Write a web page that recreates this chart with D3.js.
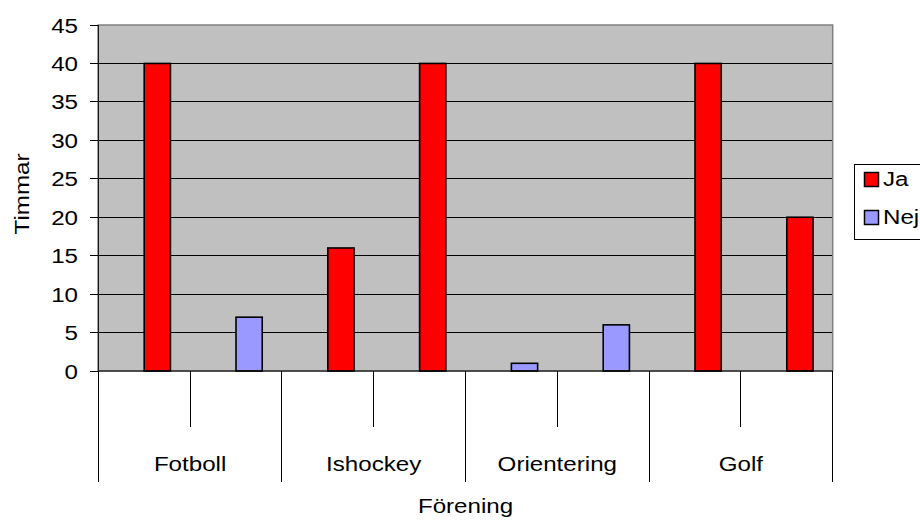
<!DOCTYPE html>
<html>
<head>
<meta charset="utf-8">
<script src="https://cdn.jsdelivr.net/npm/d3@7"></script>
<style>
  html, body { margin: 0; padding: 0; background: #fff; }
  svg { display: block; }
  text { font-family: "Liberation Sans", Arial, sans-serif; font-size: 21px; fill: #000; }
</style>
</head>
<body>
<div id="chart"></div>
<script>
// Föreningar (huvudkategorier), två underkategorier per förening
const groups = ["Fotboll", "Ishockey", "Orientering", "Golf"];
const subCategories = ["a", "b"];
// Svar per underkategori och antal timmar
const answers = ["Ja", "Nej", "Ja", "Ja", "Nej", "Nej", "Ja", "Ja"];
const hours = [40, 7, 16, 40, 1, 6, 40, 20];
// Legend / serier
const series = ["Ja", "Nej"];
const seriesColors = ["#FF0000", "#9999FF"];
// Y-axelns skala
const yTicks = [0, 5, 10, 15, 20, 25, 30, 35, 40, 45];
const yTitle = "Timmar";
const xTitle = "Förening";

const W = 920, H = 520;
const plot = { left: 98.3, right: 832.7, top: 25, bottom: 371 };
const SX = 1.15; // horizontal text widening

const slots = groups.flatMap(g => subCategories.map(s => g + "|" + s));
const rows = slots.map((id, i) => ({ id, answer: answers[i], value: hours[i] }));

const svg = d3.select("#chart").append("svg")
  .attr("width", W).attr("height", H)
  .style("background", "#fff");

const x = d3.scaleBand().domain(slots).range([plot.left, plot.right]).padding(0);
// each slot holds two cluster lanes; the answer bar sits in the second lane
const lane = d3.scaleBand().domain(["tom", "svar"]).range([0, x.bandwidth()])
  .paddingInner(0).paddingOuter(0.75);
const y = d3.scaleLinear().domain([0, 45]).range([plot.bottom, plot.top]);
const color = d3.scaleOrdinal().domain(series).range(seriesColors);

// plot background
svg.append("rect")
  .attr("x", plot.left).attr("y", plot.top)
  .attr("width", plot.right - plot.left).attr("height", plot.bottom - plot.top)
  .attr("fill", "#C0C0C0");

// gridlines
svg.append("g").selectAll("line")
  .data(yTicks.filter(t => t > 0 && t < 45))
  .join("line")
  .attr("x1", plot.left).attr("x2", plot.right)
  .attr("y1", d => y(d)).attr("y2", d => y(d))
  .attr("stroke", "#000").attr("stroke-width", 1)
  .attr("shape-rendering", "crispEdges");

// plot border
svg.append("rect")
  .attr("x", plot.left).attr("y", plot.top)
  .attr("width", plot.right - plot.left).attr("height", plot.bottom - plot.top)
  .attr("fill", "none").attr("stroke", "#808080").attr("stroke-width", 1.5);

// bars
svg.append("g").selectAll("rect")
  .data(rows)
  .join("rect")
  .attr("x", d => x(d.id) + lane("svar"))
  .attr("width", lane.bandwidth())
  .attr("y", d => y(d.value))
  .attr("height", d => y(0) - y(d.value))
  .attr("fill", d => color(d.answer))
  .attr("stroke", "#000").attr("stroke-width", 1.6);

// y axis
const yAxis = svg.append("g");
yAxis.append("line")
  .attr("x1", plot.left).attr("x2", plot.left)
  .attr("y1", plot.top).attr("y2", plot.bottom)
  .attr("stroke", "#000");
yAxis.selectAll("line.tick").data(yTicks).join("line")
  .attr("class", "tick")
  .attr("x1", plot.left - 8).attr("x2", plot.left)
  .attr("y1", d => y(d)).attr("y2", d => y(d))
  .attr("stroke", "#000").attr("shape-rendering", "crispEdges");
yAxis.selectAll("text").data(yTicks).join("text")
  .attr("transform", d => `translate(78,${y(d) + 7.5}) scale(${SX},1)`)
  .attr("text-anchor", "end")
  .text(d => d);

// category axis
const xAxis = svg.append("g");
xAxis.append("line")
  .attr("x1", plot.left).attr("x2", plot.right)
  .attr("y1", plot.bottom).attr("y2", plot.bottom)
  .attr("stroke", "#000");
const bounds = slots.map(s => x(s)).concat([plot.right]);
xAxis.selectAll("line.div").data(bounds).join("line")
  .attr("class", "div")
  .attr("x1", d => d).attr("x2", d => d)
  .attr("y1", plot.bottom)
  .attr("y2", (d, i) => i % subCategories.length === 0 ? 482 : 427)
  .attr("stroke", "#000").attr("shape-rendering", "crispEdges");
xAxis.selectAll("text").data(groups).join("text")
  .attr("transform", g => {
    const cx = (x(g + "|a") + x(g + "|b") + x.bandwidth()) / 2;
    return `translate(${cx},471) scale(${SX},1)`;
  })
  .attr("text-anchor", "middle")
  .text(g => g);

// axis titles
svg.append("text")
  .attr("transform", `translate(${(plot.left + plot.right) / 2},513) scale(${SX},1)`)
  .attr("text-anchor", "middle")
  .text(xTitle);
svg.append("text")
  .attr("transform", `translate(29,194) rotate(-90) scale(${SX},1)`)
  .attr("text-anchor", "middle")
  .text(yTitle);

// legend
const legend = svg.append("g");
legend.append("rect")
  .attr("x", 854.5).attr("y", 164.5).attr("width", 80).attr("height", 75)
  .attr("fill", "#fff").attr("stroke", "#000");
const items = legend.selectAll("g.item").data(series).join("g")
  .attr("class", "item")
  .attr("transform", (d, i) => `translate(0,${i * 38})`);
items.append("rect")
  .attr("x", 864.5).attr("y", 172.5).attr("width", 14).attr("height", 14)
  .attr("fill", d => color(d)).attr("stroke", "#000").attr("stroke-width", 1.5);
items.append("text")
  .attr("transform", `translate(883,186) scale(${SX},1)`)
  .text(d => d);
</script>
</body>
</html>
